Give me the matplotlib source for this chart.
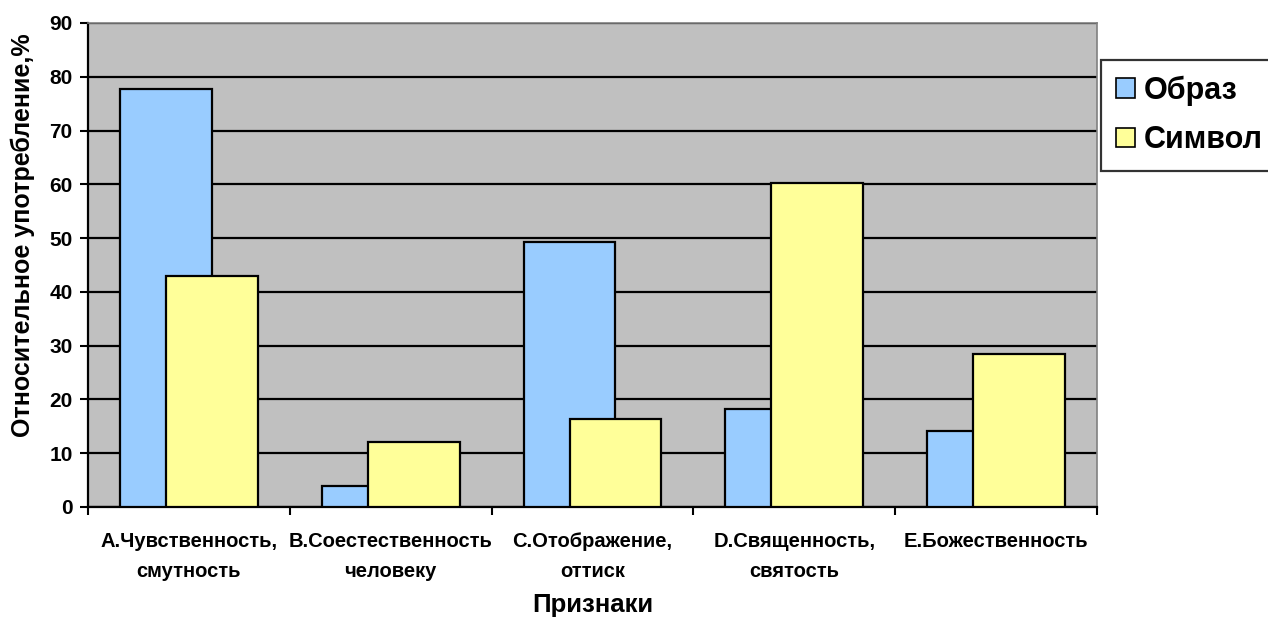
import numpy as np
import matplotlib.pyplot as plt
from matplotlib.ticker import MultipleLocator, FixedLocator

plt.rcParams['font.family'] = ['Liberation Sans', 'DejaVu Sans']
plt.rcParams['font.weight'] = 'bold'
plt.rcParams['axes.labelweight'] = 'bold'

categories = ["A.Чувственность,\nсмутность", "B.Соестественность\nчеловеку",
              "C.Отображение,\nоттиск", "D.Священность,\nсвятость",
              "E.Божественность"]
obraz = [77.8, 3.9, 49.3, 18.2, 14.2]
simvol = [42.9, 12.1, 16.4, 60.3, 28.5]
series_names = ["Образ", "Символ"]

fig = plt.figure(figsize=(12.68, 6.19), dpi=100)
ax = fig.add_axes([88 / 1268, 1 - 507 / 619, (1097 - 88) / 1268, (507 - 23) / 619])
ax.set_facecolor("#C0C0C0")

x = np.arange(len(categories))
w = 0.455
off = 0.114
b1 = ax.bar(x - off, obraz, w, color="#99CCFF", edgecolor="black", linewidth=1.6, zorder=3,
            label=series_names[0])
b2 = ax.bar(x + off, simvol, w, color="#FFFF99", edgecolor="black", linewidth=1.6, zorder=4,
            label=series_names[1])

ax.set_xlim(-0.5, len(categories) - 0.5)
ax.set_ylim(0, 90)
ax.yaxis.set_major_locator(MultipleLocator(10))
ax.grid(axis="y", color="black", linewidth=1.6, zorder=1)
ax.set_axisbelow(True)

# category labels at centres, tick marks on the boundaries
ax.set_xticks(x)
ax.set_xticklabels(categories, fontsize=14.5, linespacing=1.75)
ax.xaxis.set_minor_locator(FixedLocator(np.arange(-0.5, len(categories), 1.0)))
ax.tick_params(axis="x", which="major", length=0, pad=18)
ax.tick_params(axis="x", which="minor", length=6, width=1.5, direction="out")
ax.tick_params(axis="y", length=6, width=1.5, labelsize=15, pad=5)

for side in ("top", "right"):
    ax.spines[side].set_color("#808080")
    ax.spines[side].set_linewidth(1.2)
for side in ("left", "bottom"):
    ax.spines[side].set_color("black")
    ax.spines[side].set_linewidth(1.6)

fig.text(23 / 1268, 1 - 235 / 619, "Относительное употребление,%", rotation=90,
         ha="center", va="center", fontsize=18, fontweight="bold")
fig.text((88 + 1097) / 2 / 1268, 1 - 612 / 619, "Признаки",
         ha="center", va="baseline", fontsize=18.5, fontweight="bold")

leg = fig.legend(handles=[b1, b2], loc="upper left",
                 bbox_to_anchor=(1101 / 1268, 1 - 60 / 619),
                 frameon=True, fancybox=False, fontsize=22,
                 handlelength=0.6, handleheight=0.6, handletextpad=0.3,
                 borderpad=0.5, labelspacing=0.65, borderaxespad=0)
leg.get_frame().set_edgecolor("black")
leg.get_frame().set_linewidth(1.6)
for h in leg.legend_handles:
    h.set_linewidth(1.2)

fig.savefig("out.png", dpi=100)
